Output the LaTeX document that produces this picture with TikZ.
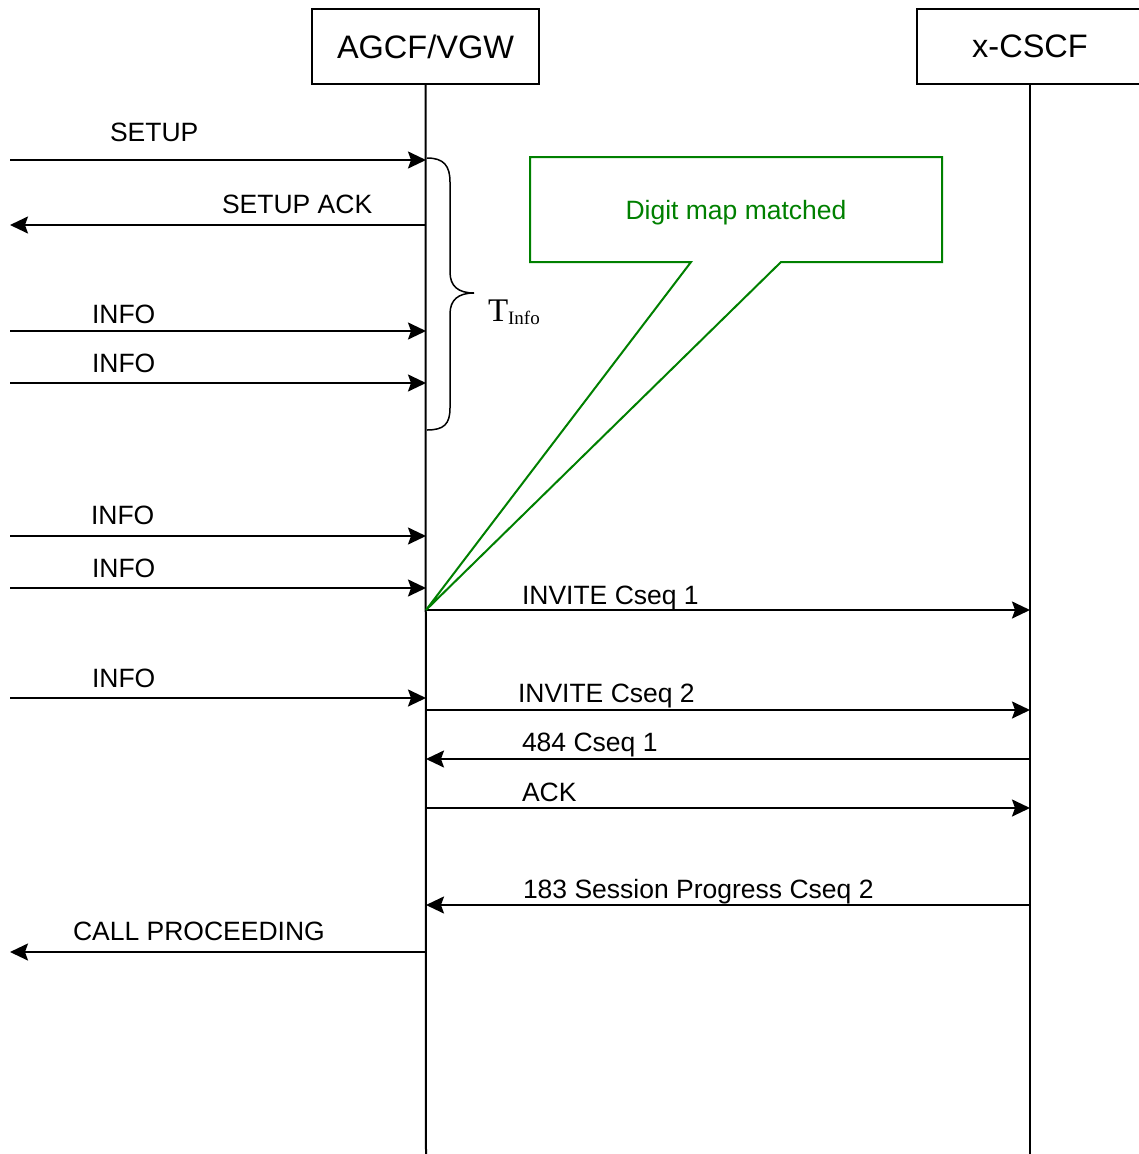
\documentclass[tikz,border=0pt]{standalone}
\usepackage{fontspec}
\setmainfont{Liberation Sans}
\newfontfamily\serifT{Liberation Serif}
\usetikzlibrary{arrows.meta}
\definecolor{callgreen}{RGB}{0,128,0}
\begin{document}
\begin{tikzpicture}[x=1pt,y=-1pt,
  line width=2pt,
  entity/.style={draw, minimum width=227pt, minimum height=75pt, inner sep=0pt, font=\fontsize{32.5}{36}\selectfont},
  msg/.style={-{Stealth[length=18pt,width=17pt,inset=3pt]}},
  lbl/.style={anchor=base west, inner sep=0pt, font=\fontsize{26.5}{30}\selectfont},
  lifeline/.style={line width=2pt}]
\useasboundingbox (0,0) rectangle (1139,1154);
\clip (0,0) rectangle (1139,1154);
% entities
\node[entity] (agcf) at (425.5,46.5) {AGCF/VGW};
\node[entity] (cscf) at (1030,46.5) {x-CSCF};
\coordinate (agcfEnd) at (426,1160);
\coordinate (cscfEnd) at (1030,1160);
\draw[lifeline] (agcf.south) -- (agcfEnd);
\draw[lifeline] (cscf.south) -- (cscfEnd);
% coordinates on lifelines
\foreach \n/\y in {a1/160,a2/225,a3/331,a4/383,a5/536,a6/588,a7/610,a8/698,a9/710,a10/759,a11/808,a12/905,a13/952}{
  \coordinate (L\n) at (10,\y);
  \coordinate (A\n) at (426,\y);
  \coordinate (C\n) at (1030,\y);
}
% messages
\draw[msg] (La1) -- (Aa1);
\node[lbl] (t1) at (109,141.5) {SETUP};
\draw[msg] (Aa2) -- (La2);
\node[lbl] (t2) at (221,213.5) {SETUP ACK};
\draw[msg] (La3) -- (Aa3);
\node[lbl] (t3) at (91,323.5) {INFO};
\draw[msg] (La4) -- (Aa4);
\node[lbl] (t4) at (91,372.5) {INFO};
\draw[msg] (La5) -- (Aa5);
\node[lbl] (t5) at (90,524.5) {INFO};
\draw[msg] (La6) -- (Aa6);
\node[lbl] (t6) at (91,577.5) {INFO};
\draw[msg] (Aa7) -- (Ca7);
\node[lbl] (t7) at (521,604.5) {INVITE Cseq 1};
\draw[msg] (La8) -- (Aa8);
\node[lbl] (t8) at (91,687.5) {INFO};
\draw[msg] (Aa9) -- (Ca9);
\node[lbl] (t9) at (517,702.5) {INVITE Cseq 2};
\draw[msg] (Ca10) -- (Aa10);
\node[lbl] (t10) at (521,751.5) {484 Cseq 1};
\draw[msg] (Aa11) -- (Ca11);
\node[lbl] (t11) at (521,801.5) {ACK};
\draw[msg] (Ca12) -- (Aa12);
\node[lbl] (t12) at (522,898.5) {183 Session Progress Cseq 2};
\draw[msg] (Aa13) -- (La13);
\node[lbl] (t13) at (72,940.5) {CALL PROCEEDING};
% brace
\coordinate (bTop) at (427,158);
\coordinate (bTip) at (474,293);
\coordinate (bBot) at (427,430);
\draw[line width=1.5pt] (bTop) .. controls (444,158) and (450,166) .. (450,182)
  -- (450,272) .. controls (450,286) and (458,293) .. (bTip)
  .. controls (458,293) and (450,300) .. (450,314)
  -- (450,408) .. controls (450,424) and (444,430) .. (bBot);
\node[anchor=base west, inner sep=0pt] (tinfo) at (487,321)
  {\serifT\fontsize{33}{36}\selectfont T\raisebox{-3pt}{\fontsize{19}{22}\selectfont Info}};
% callout
\coordinate (cTip) at (426,610);
\draw[callgreen, line width=2pt] (530,157) -- (942,157) -- (942,262) -- (781,262) -- (cTip) -- (691,262) -- (530,262) -- cycle;
\node[lbl, anchor=base, text=callgreen] (digit) at (736,219.5) {Digit map matched};
\end{tikzpicture}
\end{document}
